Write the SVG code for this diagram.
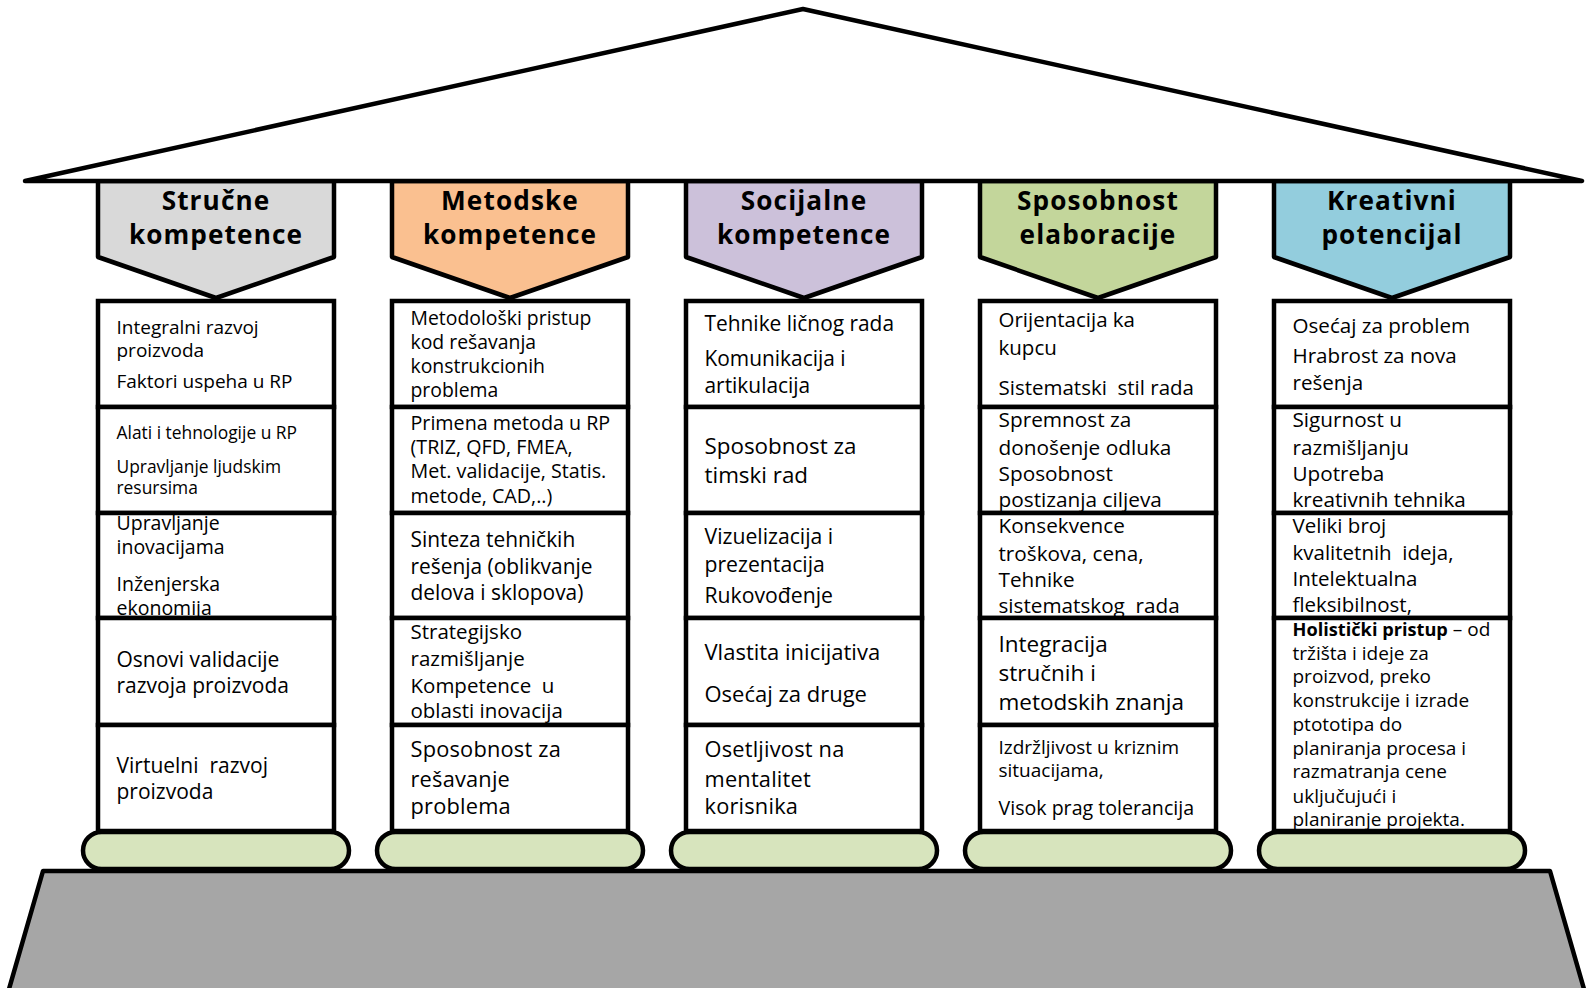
<svg xmlns="http://www.w3.org/2000/svg" width="1589" height="988" viewBox="0 0 1589 988">
<style>
.ln{stroke:#000;stroke-width:4.5;stroke-linejoin:round}
.cell{fill:#fff;stroke:#000;stroke-width:4.5}
.pill{fill:#D7E4BD;stroke:#000;stroke-width:4.5}
.h{font-family:"Open Sans","Liberation Sans",sans-serif;font-weight:700;font-size:26.2px;letter-spacing:1.1px;fill:#000;text-anchor:middle}
.t{font-family:"Open Sans","Liberation Sans",sans-serif;font-size:20px;fill:#000}
</style>
<rect width="1589" height="988" fill="#fff"/>
<g id="ground"><polygon class="ln" fill="#A6A6A6" points="43,871 1550,871 1586,996 7,996"/></g>
<g id="headers">
<g id="h1"><polygon class="ln" fill="#D9D9D9" points="98,181 334,181 334,257 216,298 98,257"/><text class="h"><tspan x="216" y="210">Stručne</tspan><tspan x="216" y="244">kompetence</tspan></text></g>
<g id="h2"><polygon class="ln" fill="#FAC090" points="392,181 628,181 628,257 510,298 392,257"/><text class="h"><tspan x="510" y="210">Metodske</tspan><tspan x="510" y="244">kompetence</tspan></text></g>
<g id="h3"><polygon class="ln" fill="#CCC1DA" points="686,181 922,181 922,257 804,298 686,257"/><text class="h"><tspan x="804" y="210">Socijalne</tspan><tspan x="804" y="244">kompetence</tspan></text></g>
<g id="h4"><polygon class="ln" fill="#C3D69B" points="980,181 1216,181 1216,257 1098,298 980,257"/><text class="h"><tspan x="1098" y="210">Sposobnost</tspan><tspan x="1098" y="244">elaboracije</tspan></text></g>
<g id="h5"><polygon class="ln" fill="#93CDDD" points="1274,181 1510,181 1510,257 1392,298 1274,257"/><text class="h"><tspan x="1392" y="210">Kreativni</tspan><tspan x="1392" y="244">potencijal</tspan></text></g>
</g>
<g id="roof"><polygon class="ln" fill="#fff" points="25,181 803,9 1582,181"/></g>

<g id="col1">
<g id="c1r1"><rect class="cell" x="98" y="301" width="236" height="106"/><text class="t" style="font-size:19px"><tspan x="116.5" y="334">Integralni razvoj</tspan><tspan x="116.5" y="357">proizvoda</tspan><tspan x="116.5" y="388">Faktori uspeha u RP</tspan></text></g>
<g id="c1r2"><rect class="cell" x="98" y="407" width="236" height="106"/><text class="t" style="font-size:17.4px"><tspan x="116.5" y="439">Alati i tehnologije u RP</tspan><tspan x="116.5" y="473">Upravljanje ljudskim</tspan><tspan x="116.5" y="494">resursima</tspan></text></g>
<g id="c1r3"><rect class="cell" x="98" y="513" width="236" height="105"/><text class="t" style="font-size:19.5px"><tspan x="116.5" y="530">Upravljanje</tspan><tspan x="116.5" y="554">inovacijama</tspan><tspan x="116.5" y="591">Inženjerska</tspan><tspan x="116.5" y="615">ekonomija</tspan></text></g>
<g id="c1r4"><rect class="cell" x="98" y="618" width="236" height="107"/><text class="t" style="font-size:21px"><tspan x="116.5" y="667">Osnovi validacije</tspan><tspan x="116.5" y="693">razvoja proizvoda</tspan></text></g>
<g id="c1r5"><rect class="cell" x="98" y="725" width="236" height="106"/><text class="t" style="font-size:21px"><tspan x="116.5" y="773">Virtuelni&#160; razvoj</tspan><tspan x="116.5" y="799">proizvoda</tspan></text></g>
</g>

<g id="col2">
<g id="c2r1"><rect class="cell" x="392" y="301" width="236" height="106"/><text class="t" style="font-size:19.4px"><tspan x="410.5" y="325">Metodološki pristup</tspan><tspan x="410.5" y="349">kod rešavanja</tspan><tspan x="410.5" y="373">konstrukcionih</tspan><tspan x="410.5" y="397">problema</tspan></text></g>
<g id="c2r2"><rect class="cell" x="392" y="407" width="236" height="106"/><text class="t" style="font-size:19.7px"><tspan x="410.5" y="430">Primena metoda u RP</tspan><tspan x="410.5" y="454">(TRIZ, QFD, FMEA,</tspan><tspan x="410.5" y="478">Met. validacije, Statis.</tspan><tspan x="410.5" y="503">metode, CAD,..)</tspan></text></g>
<g id="c2r3"><rect class="cell" x="392" y="513" width="236" height="105"/><text class="t" style="font-size:20.9px"><tspan x="410.5" y="547">Sinteza tehničkih</tspan><tspan x="410.5" y="574">rešenja (oblikvanje</tspan><tspan x="410.5" y="600">delova i sklopova)</tspan></text></g>
<g id="c2r4"><rect class="cell" x="392" y="618" width="236" height="107"/><text class="t" style="font-size:20.5px"><tspan x="410.5" y="639">Strategijsko</tspan><tspan x="410.5" y="666">razmišljanje</tspan><tspan x="410.5" y="693">Kompetence&#160; u</tspan><tspan x="410.5" y="718">oblasti inovacija</tspan></text></g>
<g id="c2r5"><rect class="cell" x="392" y="725" width="236" height="106"/><text class="t" style="font-size:21.8px;letter-spacing:0.2px"><tspan x="410.5" y="757">Sposobnost za</tspan><tspan x="410.5" y="787">rešavanje</tspan><tspan x="410.5" y="814">problema</tspan></text></g>
</g>

<g id="col3">
<g id="c3r1"><rect class="cell" x="686" y="301" width="236" height="106"/><text class="t" style="font-size:20.9px"><tspan x="704.5" y="331">Tehnike ličnog rada</tspan><tspan x="704.5" y="366">Komunikacija i</tspan><tspan x="704.5" y="393">artikulacija</tspan></text></g>
<g id="c3r2"><rect class="cell" x="686" y="407" width="236" height="106"/><text class="t" style="font-size:22.4px"><tspan x="704.5" y="454">Sposobnost za</tspan><tspan x="704.5" y="483">timski rad</tspan></text></g>
<g id="c3r3"><rect class="cell" x="686" y="513" width="236" height="105"/><text class="t" style="font-size:21.2px"><tspan x="704.5" y="544">Vizuelizacija i</tspan><tspan x="704.5" y="572">prezentacija</tspan><tspan x="704.5" y="603">Rukovođenje</tspan></text></g>
<g id="c3r4"><rect class="cell" x="686" y="618" width="236" height="107"/><text class="t" style="font-size:22px"><tspan x="704.5" y="660">Vlastita inicijativa</tspan><tspan x="704.5" y="702">Osećaj za druge</tspan></text></g>
<g id="c3r5"><rect class="cell" x="686" y="725" width="236" height="106"/><text class="t" style="font-size:21.8px;letter-spacing:0.2px"><tspan x="704.5" y="757">Osetljivost na</tspan><tspan x="704.5" y="787">mentalitet</tspan><tspan x="704.5" y="814">korisnika</tspan></text></g>
</g>

<g id="col4">
<g id="c4r1"><rect class="cell" x="980" y="301" width="236" height="106"/><text class="t" style="font-size:20.5px"><tspan x="998.5" y="327">Orijentacija ka</tspan><tspan x="998.5" y="355">kupcu</tspan><tspan x="998.5" y="395">Sistematski&#160; stil rada</tspan></text></g>
<g id="c4r2"><rect class="cell" x="980" y="407" width="236" height="106"/><text class="t" style="font-size:20.8px"><tspan x="998.5" y="427">Spremnost za</tspan><tspan x="998.5" y="455">donošenje odluka</tspan><tspan x="998.5" y="481">Sposobnost</tspan><tspan x="998.5" y="507">postizanja ciljeva</tspan></text></g>
<g id="c4r3"><rect class="cell" x="980" y="513" width="236" height="105"/><text class="t" style="font-size:20.7px"><tspan x="998.5" y="533">Konsekvence</tspan><tspan x="998.5" y="561">troškova, cena,</tspan><tspan x="998.5" y="587">Tehnike</tspan><tspan x="998.5" y="613">sistematskog&#160; rada</tspan></text></g>
<g id="c4r4"><rect class="cell" x="980" y="618" width="236" height="107"/><text class="t" style="font-size:22.5px"><tspan x="998.5" y="652">Integracija</tspan><tspan x="998.5" y="681">stručnih i</tspan><tspan x="998.5" y="710">metodskih znanja</tspan></text></g>
<g id="c4r5"><rect class="cell" x="980" y="725" width="236" height="106"/><text class="t" style="font-size:19px"><tspan x="998.5" y="754">Izdržljivost u kriznim</tspan><tspan x="998.5" y="777">situacijama,</tspan><tspan x="998.5" y="815" style="font-size:19.6px">Visok prag tolerancija</tspan></text></g>
</g>

<g id="col5">
<g id="c5r1"><rect class="cell" x="1274" y="301" width="236" height="106"/><text class="t" style="font-size:20.6px"><tspan x="1292.5" y="333">Osećaj za problem</tspan><tspan x="1292.5" y="363">Hrabrost za nova</tspan><tspan x="1292.5" y="390">rešenja</tspan></text></g>
<g id="c5r2"><rect class="cell" x="1274" y="407" width="236" height="106"/><text class="t" style="font-size:20.7px"><tspan x="1292.5" y="427">Sigurnost u</tspan><tspan x="1292.5" y="455">razmišljanju</tspan><tspan x="1292.5" y="481">Upotreba</tspan><tspan x="1292.5" y="507">kreativnih tehnika</tspan></text></g>
<g id="c5r3"><rect class="cell" x="1274" y="513" width="236" height="105"/><text class="t" style="font-size:20.5px"><tspan x="1292.5" y="533">Veliki broj</tspan><tspan x="1292.5" y="560">kvalitetnih&#160; ideja,</tspan><tspan x="1292.5" y="586">Intelektualna</tspan><tspan x="1292.5" y="612">fleksibilnost,</tspan></text></g>
<g id="c5r4"><rect class="cell" x="1274" y="618" width="236" height="213"/><text class="t" style="font-size:19px"><tspan x="1292.5" y="636"><tspan font-weight="700" style="font-size:18.2px">Holistički pristup</tspan> – od</tspan><tspan x="1292.5" y="660">tržišta i ideje za</tspan><tspan x="1292.5" y="683">proizvod, preko</tspan><tspan x="1292.5" y="707">konstrukcije i izrade</tspan><tspan x="1292.5" y="731">ptototipa do</tspan><tspan x="1292.5" y="755">planiranja procesa i</tspan><tspan x="1292.5" y="778">razmatranja cene</tspan><tspan x="1292.5" y="803">uključujući i</tspan><tspan x="1292.5" y="826">planiranje projekta.</tspan></text></g>
</g>

<g id="bases">
<rect class="pill" x="83" y="832" width="266" height="37" rx="18.5"/>
<rect class="pill" x="377" y="832" width="266" height="37" rx="18.5"/>
<rect class="pill" x="671" y="832" width="266" height="37" rx="18.5"/>
<rect class="pill" x="965" y="832" width="266" height="37" rx="18.5"/>
<rect class="pill" x="1259" y="832" width="266" height="37" rx="18.5"/>
</g>
</svg>
